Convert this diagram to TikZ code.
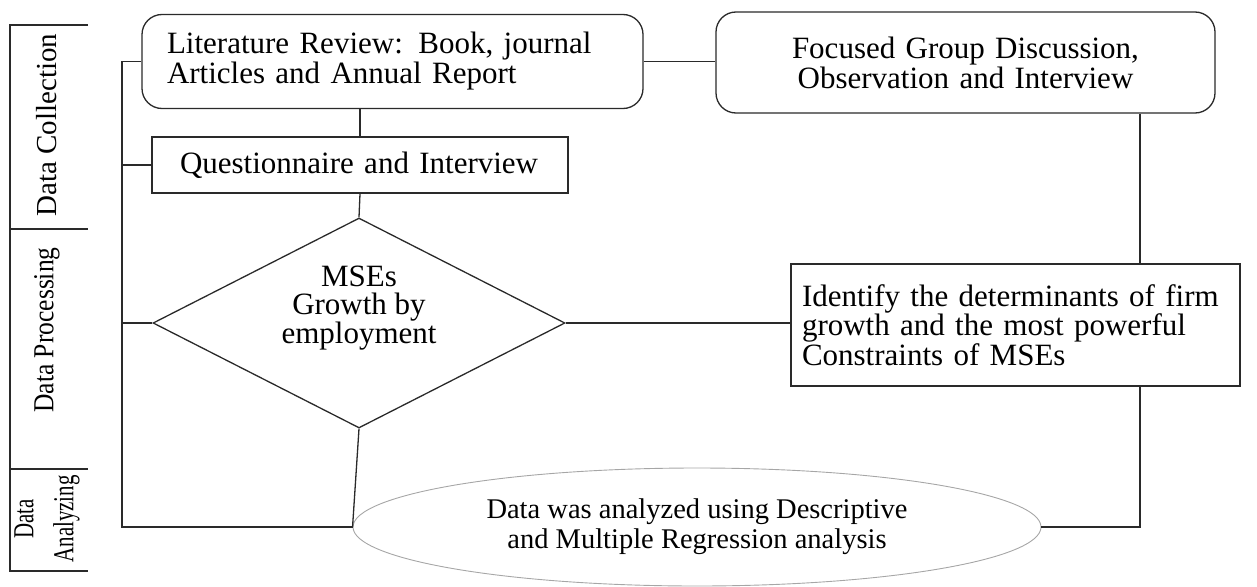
\documentclass[tikz,border=0pt]{standalone}
\usepackage{fontspec}
\setmainfont{Liberation Serif}
\newfontfamily\condA[FakeStretch=1.0]{Liberation Serif}
\newfontfamily\condB[FakeStretch=0.88]{Liberation Serif}
\newfontfamily\condC[FakeStretch=0.72]{Liberation Serif}
\usetikzlibrary{shapes.geometric}
\definecolor{ink}{HTML}{2A2A2A}
\begin{document}
\begin{tikzpicture}[x=1pt,y=-1pt,
  every node/.style={font=\fontsize{31}{30}\selectfont, text=black},
  conn/.style={draw=ink, line width=1.3pt},
  boxr/.style={draw=ink, line width=1.3pt, rounded corners=20pt, inner ysep=0pt},
  boxs/.style={draw=ink, line width=1.3pt, inner ysep=0pt},
  lab/.style={rotate=90, inner sep=0pt, align=center}
]
\useasboundingbox (0,0) rectangle (1257,586);

% side bracket
\draw[ink, line width=1.8pt] (88,25) -- (10,25) -- (10,571) -- (88,571);
\draw[ink, line width=1.8pt] (10,229) -- (88,229);
\draw[ink, line width=1.8pt] (10,469) -- (88,469);
\node[lab, font=\condA\fontsize{29}{29}\selectfont] (lcol) at (47,125) {Data Collection};
\node[lab, font=\condB\fontsize{29}{29}\selectfont] (lpro) at (47,330) {Data Processing};
\node[lab, font=\condC\fontsize{29}{40}\selectfont] (lana) at (47,519) {Data\\Analyzing};

% nodes
\node[boxr, minimum width=501pt, minimum height=94pt, text width=451pt, inner xsep=25pt, align=left]
  (lit) at (392.5,61.5) {Literature Review: Book, journal\\Articles and Annual Report};
\node[boxr, minimum width=499pt, minimum height=101pt, text width=460pt, align=center]
  (foc) at (965.5,62.5) {Focused Group Discussion,\\Observation and Interview};
\node[boxs, minimum width=416pt, minimum height=56pt, text width=360pt, inner xsep=28pt, align=left]
  (que) at (360,165) {Questionnaire and Interview};
\node[draw=ink, line width=1.3pt, shape=diamond, minimum width=412pt, minimum height=210pt, inner sep=0pt, aspect=1.96]
  (dia) at (359,323) {};
\node[align=center, inner sep=0pt, font=\fontsize{31}{28}\selectfont] (diat) at (359,308) {MSEs\\Growth by\\employment};
\node[boxs, minimum width=449pt, minimum height=122pt, text width=427pt, inner xsep=11pt, align=left, font=\fontsize{31}{28}\selectfont]
  (ide) at (1015.5,325) {Identify the determinants of firm\\growth and the most powerful\\Constraints of MSEs};
\node[draw=gray!70, line width=0.9pt, shape=ellipse, minimum width=688pt, minimum height=118pt, inner sep=0pt, align=center, font=\fontsize{28.5}{30}\selectfont]
  (ell) at (697,527) {Data was analyzed using Descriptive\\and Multiple Regression analysis};

% connector helpers
\coordinate (bus) at (122,0);
\coordinate (rx) at (1140,0);

% connectors
\draw[conn] (lit.west) -- (lit.west -| bus) -- (bus |- ell.west) -- (ell.west);
\draw[conn] (que.west) -- (que.west -| bus);
\draw[conn] (dia.west) -- (dia.west -| bus);
\draw[conn] (lit.east) -- (foc.west |- lit.east);
\draw[conn] (que.north |- lit.south) -- (que.north);
\draw[conn] (que.south) -- (dia.north);
\draw[conn] (dia.east) -- (dia.east -| ide.west);
\draw[conn] (dia.south) -- (ell.west);
\draw[conn] (foc.south -| rx) -- (ide.north -| rx);
\draw[conn] (ide.south -| rx) -- (rx |- ell.east) -- (ell.east);
\end{tikzpicture}
\end{document}
